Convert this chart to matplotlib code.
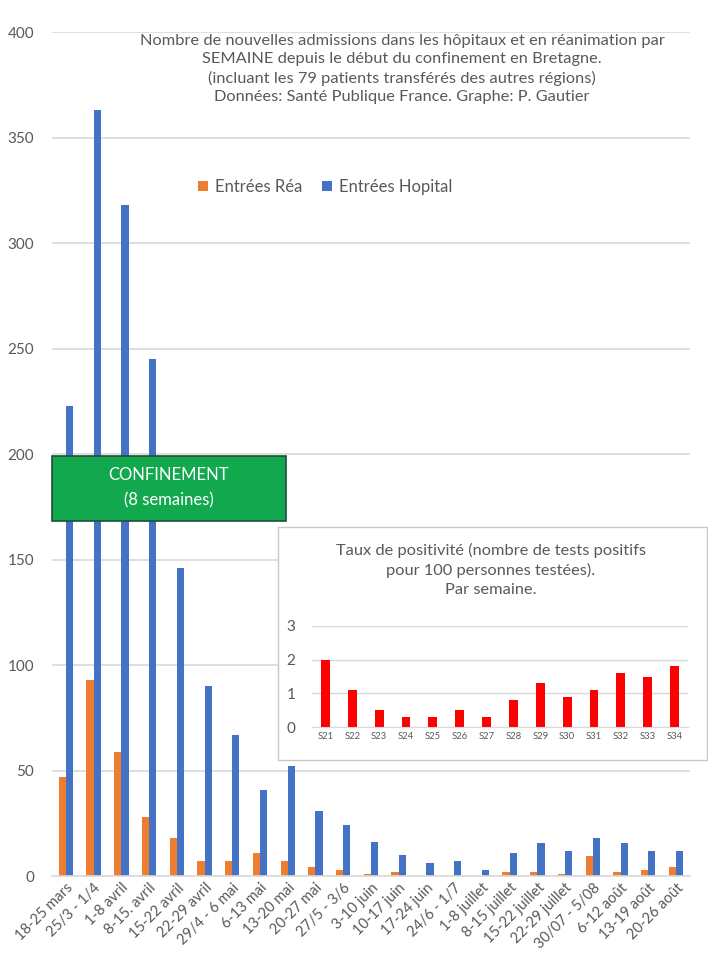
import matplotlib
matplotlib.use("Agg")
import matplotlib.pyplot as plt
from matplotlib.patches import Rectangle

plt.rcParams['font.family'] = ['Lato', 'DejaVu Sans']

# weekly admissions (Bretagne)
semaines = ['18-25 mars', '25/3 - 1/4', '1-8 avril', '8-15. avril', '15-22 avril',
            '22-29 avril', '29/4 - 6 mai', '6-13 mai', '13-20 mai', '20-27 mai',
            '27/5 - 3/6', '3-10 juin', '10-17 juin', '17-24 juin', '24/6 - 1/7',
            '1-8 juillet', '8-15 juillet', '15-22 juillet', '22-29 juillet',
            '30/07 - 5/08', '6-12 août', '13-19 août', '20-26 août']
entrees_rea = [47, 93, 59, 28, 18, 7, 7, 11, 7, 4.5, 3, 1, 2, 0, 0, 0, 2, 2, 1, 9.5, 2, 3, 4.5]
entrees_hop = [223, 363, 318, 245, 146, 90, 67, 41, 52, 31, 24, 16, 10, 6, 7, 3, 11, 15.5,
               12, 18, 15.5, 12, 12]

# inset: taux de positivite
sem_num = ['S21', 'S22', 'S23', 'S24', 'S25', 'S26', 'S27', 'S28', 'S29', 'S30',
           'S31', 'S32', 'S33', 'S34']
taux_pos = [2.0, 1.1, 0.5, 0.3, 0.3, 0.5, 0.3, 0.8, 1.3, 0.9, 1.1, 1.6, 1.5, 1.8]

ORANGE = '#ED7D31'
BLUE = '#4472C4'
GREY = '#595959'
GRID = '#D9D9D9'

fig = plt.figure(figsize=(7.08, 9.6), dpi=100)
ax = fig.add_axes([0.0734, 0.0875, 0.901, 0.879])

x = list(range(len(semaines)))
w = 0.26
ax.bar([i - w / 2 for i in x], entrees_rea, width=w, color=ORANGE, label='Entrées Réa', zorder=2)
ax.bar([i + w / 2 for i in x], entrees_hop, width=w, color=BLUE, label='Entrées Hopital', zorder=2)

ax.set_xlim(-0.5, len(semaines) - 0.5)
ax.set_ylim(0, 400)
ax.set_yticks(range(0, 401, 50))
ax.yaxis.grid(True, color=GRID, lw=1.2, zorder=0)
ax.set_axisbelow(True)
for s in ['top', 'right', 'left']:
    ax.spines[s].set_visible(False)
ax.spines['bottom'].set_color(GRID)
ax.spines['bottom'].set_linewidth(1.2)
ax.tick_params(length=0, colors=GREY, labelsize=11)
ax.tick_params(axis='y', pad=13)
ax.set_xticks(x)
ax.set_xticklabels(semaines, rotation=45, ha='right', rotation_mode='anchor', fontsize=10.5)

fig.text(0.568, 1 - 34 / 960,
         'Nombre de nouvelles admissions dans les hôpitaux et en réanimation par\n'
         'SEMAINE depuis le début du confinement en Bretagne.\n'
         '(incluant les 79 patients transférés des autres régions)\n'
         'Données: Santé Publique France. Graphe: P. Gautier',
         ha='center', va='top', fontsize=11.8, color=GREY, linespacing=1.37)

fig.legend(loc='center', bbox_to_anchor=(325 / 708, 1 - 187 / 960), ncol=2, frameon=False,
           fontsize=12, handlelength=0.6, handleheight=0.6, handletextpad=0.4,
           columnspacing=1.2, labelcolor=GREY)

# confinement box
fig.patches.append(Rectangle((52 / 708, 1 - 521 / 960), 234 / 708, 65 / 960,
                             transform=fig.transFigure, facecolor='#12A84E',
                             edgecolor='#1F4E3D', lw=1.2, zorder=5))
fig.text(169 / 708, 1 - 488 / 960, 'CONFINEMENT\n(8 semaines)', ha='center', va='center',
         color='white', fontsize=12, linespacing=1.7, zorder=6)

# inset frame
fig.patches.append(Rectangle((278 / 708, 1 - 760 / 960), 429 / 708, 233 / 960,
                             transform=fig.transFigure, facecolor='white',
                             edgecolor='#C8C8C8', lw=1.0, zorder=7))
fig.text(491 / 708, 1 - 543 / 960,
         'Taux de positivité (nombre de tests positifs\npour 100 personnes testées).\nPar semaine.',
         ha='center', va='top', fontsize=11.8, color=GREY, linespacing=1.42, zorder=8)

axi = fig.add_axes([312 / 708, 1 - 727.3 / 960, 376 / 708, 101.6 / 960], zorder=8)
axi.patch.set_alpha(0)
axi.bar(range(len(sem_num)), taux_pos, width=0.33, color='#FF0000', zorder=2)
axi.set_xlim(-0.5, len(sem_num) - 0.5)
axi.set_ylim(0, 3)
axi.set_yticks([0, 1, 2, 3])
axi.yaxis.grid(True, color=GRID, lw=1.0, zorder=0)
axi.set_axisbelow(True)
for s in ['top', 'right', 'left']:
    axi.spines[s].set_visible(False)
axi.spines['bottom'].set_color(GRID)
axi.tick_params(length=0, colors=GREY)
axi.tick_params(axis='y', labelsize=11, pad=12)
axi.set_xticks(range(len(sem_num)))
axi.set_xticklabels(sem_num, fontsize=6.8)

fig.savefig('out.png', dpi=100)
